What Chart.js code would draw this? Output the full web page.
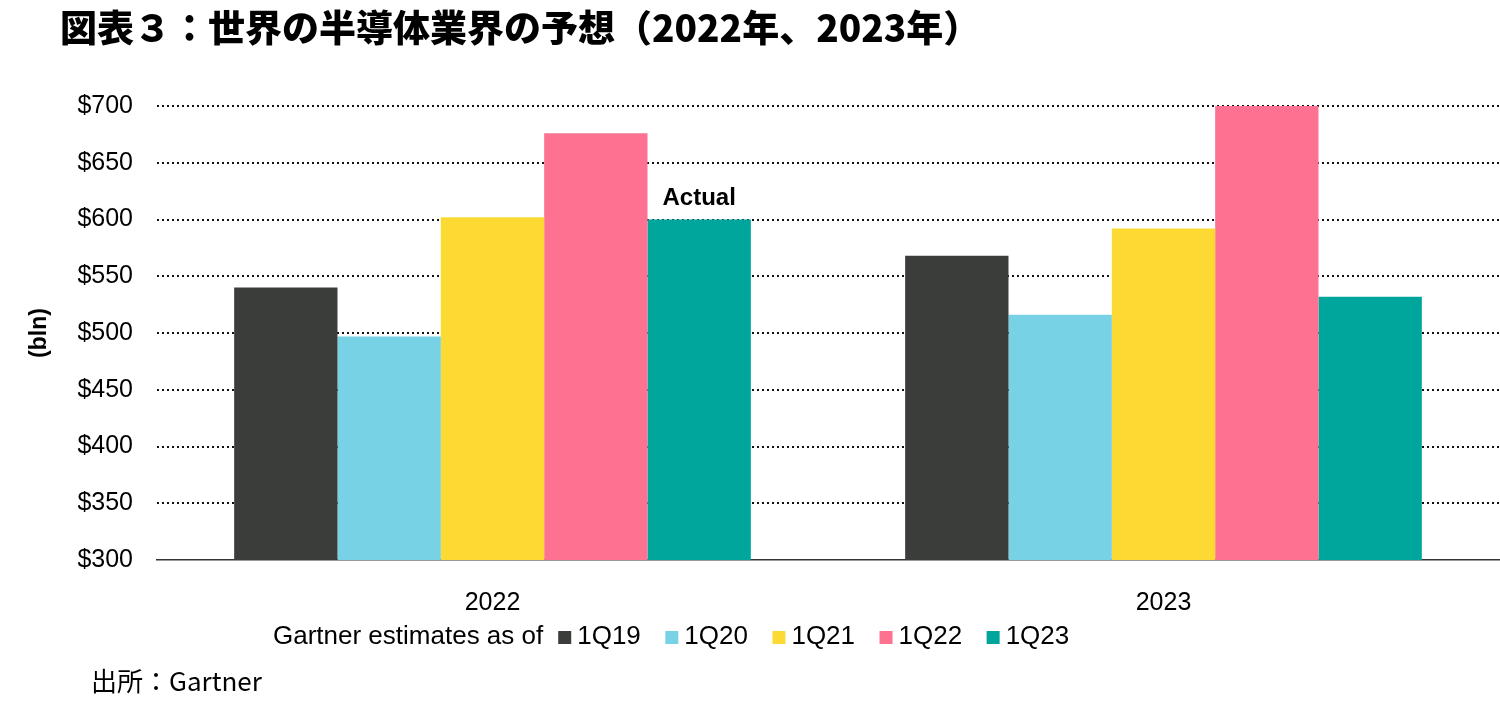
<!DOCTYPE html>
<html lang="ja">
<head>
<meta charset="utf-8">
<title>世界の半導体業界の予想</title>
<script src="https://cdn.jsdelivr.net/npm/chart.js@4.4.1/dist/chart.umd.min.js"></script>
<style>
  html, body { margin: 0; padding: 0; background: #fff; }
  #wrap { position: relative; width: 1500px; height: 715px; overflow: hidden; }
  #title {
    position: absolute; left: 60px; top: 5px; margin: 0;
    font: 900 37px/42px "Noto Sans CJK JP", sans-serif; color: #000; white-space: nowrap;
  }
  #source {
    position: absolute; left: 91px; top: 665px; margin: 0;
    font: 400 26px/30px "Noto Sans CJK JP", sans-serif; color: #000;
  }
  canvas { position: absolute; left: 0; top: 0; }
</style>
</head>
<body>
<div id="wrap">
  <canvas id="chart" width="1500" height="715"></canvas>
  <h1 id="title">図表３：世界の半導体業界の予想（2022年、2023年）</h1>
  <p id="source">出所：Gartner</p>
</div>
<script>
// Gartner forecasts of world semiconductor revenue ($ bln)
const categories = ['2022', '2023'];
const seriesNames = ['1Q19', '1Q20', '1Q21', '1Q22', '1Q23'];
const est1Q19 = [540, 568];
const est1Q20 = [497, 516];
const est1Q21 = [602, 592];
const est1Q22 = [676, 700];
const est1Q23 = [600, 532];
const yMin = 300;
const yMax = 700;
const yStep = 50;
const legendLead = 'Gartner estimates as of';
const actualNote = 'Actual';
const axisTitle = '(bln)';

const colors = ['#3b3d3a', '#78d2e6', '#fdda33', '#fd7291', '#00a59b'];
const values = [est1Q19, est1Q20, est1Q21, est1Q22, est1Q23];
const latin = '"Liberation Sans", Arial, sans-serif';

// annotation, rotated axis title and the inline legend
const decorations = {
  id: 'decorations',
  afterDatasetsDraw(chart) {
    const ctx = chart.ctx;
    const area = chart.chartArea;
    ctx.save();
    // "Actual" sits above the 1Q23 bar for 2022
    const bar = chart.getDatasetMeta(4).data[0];
    ctx.font = 'bold 24px ' + latin;
    ctx.fillStyle = '#000';
    ctx.textAlign = 'center';
    ctx.textBaseline = 'middle';
    ctx.fillText(actualNote, bar.x, bar.y - 21);

    ctx.translate(40, (area.top + area.bottom) / 2);
    ctx.rotate(-Math.PI / 2);
    ctx.font = 'bold 23px ' + latin;
    ctx.fillText(axisTitle, 0, 0);
    ctx.restore();
  },
  afterDraw(chart) {
    const ctx = chart.ctx;
    const y = 637;
    let x = 273;
    ctx.save();
    ctx.font = '26px ' + latin;
    ctx.textAlign = 'left';
    ctx.textBaseline = 'middle';
    ctx.fillStyle = '#000';
    ctx.fillText(legendLead, x, y);
    x += ctx.measureText(legendLead).width + 15;
    chart.data.datasets.forEach(ds => {
      ctx.fillStyle = ds.backgroundColor;
      ctx.fillRect(x, y - 6, 13, 13);
      x += 19;
      ctx.fillStyle = '#000';
      ctx.fillText(ds.label, x, y);
      x += ctx.measureText(ds.label).width + 24.5;
    });
    ctx.restore();
  }
};

new Chart(document.getElementById('chart'), {
  type: 'bar',
  data: {
    labels: categories,
    datasets: seriesNames.map((name, i) => ({
      label: name,
      data: values[i],
      backgroundColor: colors[i],
      borderWidth: 0,
      categoryPercentage: 0.77,
      barPercentage: 1.0
    }))
  },
  options: {
    responsive: false,
    animation: false,
    layout: { padding: { top: 106, right: 1, bottom: 0, left: 0 } },
    plugins: {
      legend: { display: false },
      title: { display: false },
      tooltip: { enabled: false }
    },
    scales: {
      x: {
        afterFit: scale => { scale.height = 155; },
        grid: { display: false },
        border: { display: true, color: '#333', width: 1.5 },
        ticks: { color: '#000', padding: 20, font: { family: latin, size: 25 } }
      },
      y: {
        min: yMin,
        max: yMax,
        afterFit: scale => { scale.width = 157; },
        border: { display: false, dash: [2, 3] },
        grid: {
          drawTicks: false,
          lineWidth: 2,
          color: ctx => (ctx.tick && ctx.tick.value === yMin) ? 'rgba(0,0,0,0)' : '#111'
        },
        ticks: {
          stepSize: yStep,
          padding: 24,
          color: '#000',
          font: { family: latin, size: 25 },
          callback: v => '$' + v
        }
      }
    }
  },
  plugins: [decorations]
});
</script>
</body>
</html>
